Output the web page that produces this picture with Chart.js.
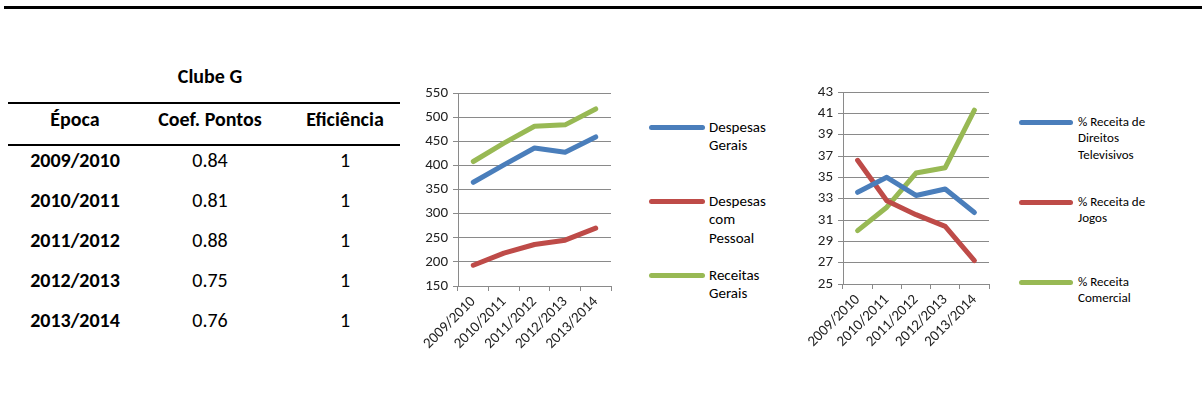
<!DOCTYPE html>
<html>
<head>
<meta charset="utf-8">
<script src="https://cdn.jsdelivr.net/npm/chart.js@4.4.1/dist/chart.umd.min.js"></script>
<style>
  html, body { margin:0; padding:0; background:#fff; }
  body { width:1202px; height:411px; position:relative; overflow:hidden; font-family: Calibri, Carlito, Lato, sans-serif; color:#000; }
  .topbar { position:absolute; left:4px; top:6px; width:1198px; height:3px; background:#000; }
  .cell { position:absolute; transform:translate(-50%,-50%); white-space:nowrap; font-size:20px; }
  .b { font-weight:bold; }
  .rule { position:absolute; left:8px; width:392px; height:2px; background:#000; }
  .cv { position:absolute; }
  .leg { position:absolute; }
  .leg .sw { position:absolute; height:5px; border-radius:3px; }
  .leg .tx { position:absolute; white-space:nowrap; }
</style>
</head>
<body>
<div class="topbar"></div>
<div id="table"></div>
<div class="cv" style="left:400px;top:70px;width:225px;height:300px;"><canvas id="c1" width="225" height="300"></canvas></div>
<div class="cv" style="left:790px;top:70px;width:215px;height:300px;"><canvas id="c2" width="215" height="300"></canvas></div>
<div id="leg1"></div>
<div id="leg2"></div>
<script>
// ---- data ----
const tableTitle = "Clube G";
const tableHeaders = ["Época", "Coef. Pontos", "Eficiência"];
const seasons = ["2009/2010", "2010/2011", "2011/2012", "2012/2013", "2013/2014"];
const coefPontos = ["0.84", "0.81", "0.88", "0.75", "0.76"];
const eficiencia = ["1", "1", "1", "1", "1"];

const despesasGerais = [365, 401, 436, 427, 459];
const despesasPessoal = [193, 218, 236, 245, 270];
const receitasGerais = [408, 446, 481, 484, 517];
const chart1Labels = [["Despesas", "Gerais"], ["Despesas", "com", "Pessoal"], ["Receitas", "Gerais"]];

const pctTelevisivos = [33.6, 35.0, 33.3, 33.9, 31.7];
const pctJogos = [36.6, 32.8, 31.5, 30.4, 27.2];
const pctComercial = [30.0, 32.2, 35.4, 35.9, 41.3];
const chart2Labels = [["% Receita de", "Direitos", "Televisivos"], ["% Receita de", "Jogos"], ["% Receita", "Comercial"]];

const colors = ["#4A7EBB", "#BE4B48", "#98B954"];

// ---- table ----
const tbl = document.getElementById('table');
function cell(text, x, y, bold) {
  const d = document.createElement('div');
  d.className = 'cell' + (bold ? ' b' : '');
  d.style.left = x + 'px'; d.style.top = y + 'px';
  d.textContent = text; tbl.appendChild(d);
}
const colX = [75, 210, 345];
cell(tableTitle, 210, 76, true);
tableHeaders.forEach((h, i) => cell(h, colX[i], 119, true));
seasons.forEach((s, r) => {
  const y = 160 + r * 40;
  cell(s, colX[0], y, true);
  cell(coefPontos[r], colX[1], y, false);
  cell(eficiencia[r], colX[2], y, false);
});
[102, 144].forEach(y => { const d = document.createElement('div'); d.className = 'rule'; d.style.top = y + 'px'; tbl.appendChild(d); });

// ---- charts ----
Chart.defaults.font.family = "Calibri, Carlito, Lato, sans-serif";
Chart.defaults.color = "#222";
const gridColor = "#8a8a8a";

function makeChart(id, sets, labels, yMin, yMax, step, yWidth, xHeight, padTop, padRight) {
  return new Chart(document.getElementById(id), {
    type: 'line',
    data: {
      labels: seasons,
      datasets: sets.map((d, i) => ({
        label: labels[i].join(' '),
        data: d,
        borderColor: colors[i],
        backgroundColor: colors[i],
        borderWidth: 5,
        pointRadius: 0,
        tension: 0,
        borderCapStyle: 'round',
        borderJoinStyle: 'round'
      }))
    },
    options: {
      responsive: false,
      animation: false,
      events: [],
      layout: { padding: { top: padTop, right: padRight, left: 0, bottom: 0 } },
      plugins: { legend: { display: false }, tooltip: { enabled: false } },
      scales: {
        x: {
          offset: true,
          grid: { offset: true, drawOnChartArea: false, drawTicks: true, tickLength: 5, color: gridColor, lineWidth: 1 },
          border: { color: gridColor, width: 1 },
          ticks: { minRotation: 45, maxRotation: 45, autoSkip: false, padding: 2, font: { size: 15 }, color: '#222' },
          afterFit: s => { s.height = xHeight; }
        },
        y: {
          min: yMin, max: yMax,
          grid: { color: gridColor, lineWidth: 1, tickLength: 5 },
          border: { color: gridColor, width: 1 },
          ticks: { stepSize: step, padding: 5, font: { size: 15 }, color: '#222' },
          afterFit: s => { s.width = yWidth; }
        }
      }
    }
  });
}

function legend(id, labels, swX, swW, txX, ys, fs, lh) {
  const root = document.getElementById(id);
  labels.forEach((lines, i) => {
    const g = document.createElement('div'); g.className = 'leg';
    const sw = document.createElement('div'); sw.className = 'sw';
    sw.style.left = swX + 'px'; sw.style.top = (ys[i] - 2.5) + 'px'; sw.style.width = swW + 'px'; sw.style.background = colors[i];
    g.appendChild(sw);
    const tx = document.createElement('div'); tx.className = 'tx';
    tx.style.left = txX + 'px'; tx.style.top = (ys[i] - lh / 2) + 'px';
    tx.style.fontSize = fs + 'px'; tx.style.lineHeight = lh + 'px';
    tx.innerHTML = lines.join('<br>');
    g.appendChild(tx);
    root.appendChild(g);
  });
}

function draw() {
  makeChart('c1', [despesasGerais, despesasPessoal, receitasGerais], chart1Labels, 150, 550, 50, 58, 84, 23, 14);
  makeChart('c2', [pctTelevisivos, pctJogos, pctComercial], chart2Labels, 25, 43, 2, 53, 86, 22, 16);
  legend('leg1', chart1Labels, 649, 56, 709, [127, 201, 275], 15, 18.5);
  legend('leg2', chart2Labels, 1019, 54, 1078, [122, 202, 282], 13, 16.5);
}
if (document.fonts && document.fonts.load) {
  document.fonts.load("15px Lato").then(draw, draw);
} else { draw(); }
</script>
</body>
</html>
